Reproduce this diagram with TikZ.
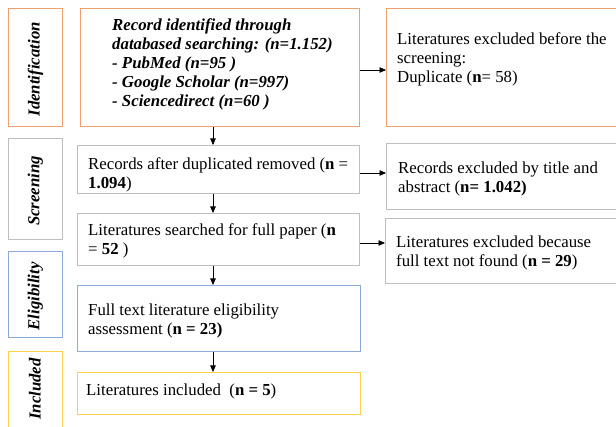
\documentclass[tikz,border=0pt]{standalone}
\usepackage{fontspec}
\setmainfont{Liberation Serif}
\usetikzlibrary{arrows.meta}
\definecolor{cOrange}{RGB}{240,160,110}
\definecolor{cGray}{RGB}{190,190,190}
\definecolor{cBlue}{RGB}{140,170,220}
\definecolor{cYellow}{RGB}{255,208,80}
\tikzset{
  boxnode/.style={draw=#1, line width=0.8pt, minimum width=0, minimum height=0, inner sep=0pt, anchor=north west},
  txt/.style={anchor=west, align=left, inner sep=0pt, yshift=-2pt, font=\fontsize{16.8}{19}\selectfont},
  sidetxt/.style={rotate=90, inner sep=0pt, xshift=-2pt, font=\fontsize{16.8}{19}\selectfont\bfseries\itshape},
  arr/.style={-{Triangle[length=6.5pt,width=5.5pt]}, line width=0.7pt, black}
}
\begin{document}
\begin{tikzpicture}[x=1pt,y=-1pt]
\useasboundingbox (0,0) rectangle (616,427);
\clip (0,0) rectangle (616,427);
\fill[white] (0,0) rectangle (616,427);
% side labels
\node[boxnode=cOrange, minimum width=54, minimum height=118] (s1) at (8,8) {};
\node[boxnode=cGray, minimum width=54, minimum height=101] (s2) at (8,138) {};
\node[boxnode=cBlue, minimum width=54, minimum height=86] (s3) at (8,251) {};
\node[boxnode=cYellow, minimum width=54, minimum height=100] (s4) at (8,351) {};
\node[sidetxt] (st1) at (s1.center) {Identification};
\node[sidetxt] (st2) at (s2.center) {Screening};
\node[sidetxt] (st3) at (s3.center) {Eligibility};
\node[sidetxt] (st4) at (35,387) {Included};
% main boxes
\node[boxnode=cOrange, minimum width=279, minimum height=118] (b1) at (80,8) {};
\node[boxnode=cOrange, minimum width=260, minimum height=118] (r1) at (386,8) {};
\node[boxnode=cGray, minimum width=282, minimum height=48] (b2) at (77,145) {};
\node[boxnode=cGray, minimum width=260, minimum height=66] (r2) at (386,143) {};
\node[boxnode=cGray, minimum width=282, minimum height=52] (b3) at (77,213) {};
\node[boxnode=cGray, minimum width=260, minimum height=65] (r3) at (385,218) {};
\node[boxnode=cBlue, minimum width=283, minimum height=66] (b4) at (77,285) {};
\node[boxnode=cYellow, minimum width=283, minimum height=42] (b5) at (77,372) {};
% texts
\node[txt, font=\fontsize{16.8}{19}\selectfont\bfseries\itshape] (t1) at (112,62.5) {Record identified through\\databased searching: (n=1.152)\\- PubMed (n=95 )\\- Google Scholar (n=997)\\- Sciencedirect (n=60 )};
\node[txt] (tr1) at (397,57.5) {Literatures excluded before the\\screening:\\Duplicate (\textbf{n}= 58)};
\node[txt] (t2) at (88,173) {Records after duplicated removed (\textbf{n} =\\\textbf{1.094})};
\node[txt] (tr2) at (398,177) {Records excluded by title and\\abstract (\textbf{n= 1.042)}};
\node[txt] (t3) at (88,239) {Literatures searched for full paper (\textbf{n}\\= \textbf{52} )};
\node[txt] (tr3) at (396,251) {Literatures excluded because\\full text not found (\textbf{n = 29})};
\node[txt] (t4) at (88,318.5) {Full text literature eligibility\\assessment (\textbf{n = 23)}};
\node[txt] (t5) at (86,389) {Literatures included\ \ (\textbf{n = 5})};
% arrows
\coordinate (ax) at (213,0);
\draw[arr] (b1.south -| ax) -- (b2.north -| ax);
\draw[arr] (b2.south -| ax) -- (b3.north -| ax);
\draw[arr] (b3.south -| ax) -- (b4.north -| ax);
\draw[arr] (b4.south -| ax) -- (b5.north -| ax);
\coordinate (y1) at (0,70);
\coordinate (y2) at (0,173);
\coordinate (y3) at (0,243);
\draw[arr] (b1.east |- y1) -- (r1.west |- y1);
\draw[arr] (b2.east |- y2) -- (r2.west |- y2);
\draw[arr] (b3.east |- y3) -- (r3.west |- y3);
\end{tikzpicture}
\end{document}
